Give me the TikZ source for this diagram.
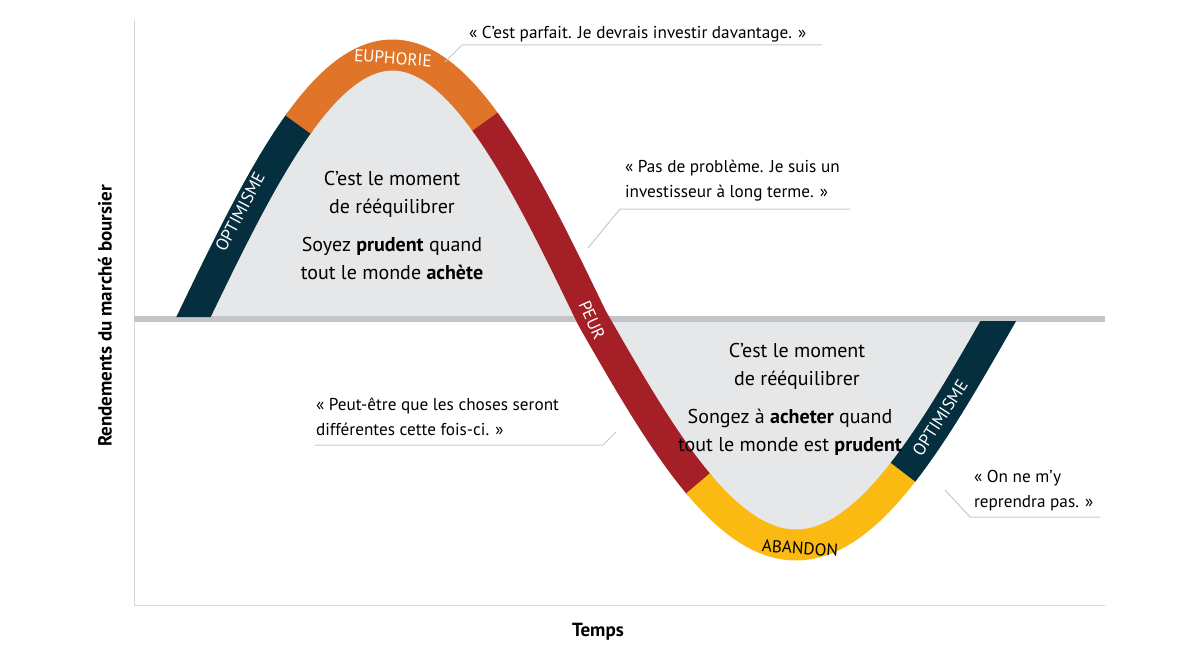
\documentclass[tikz,border=0pt]{standalone}
\usepackage{fontspec}
\setmainfont{PT Sans}
\definecolor{navy}{HTML}{052F3F}
\definecolor{euph}{HTML}{E07428}
\definecolor{fear}{HTML}{A51F26}
\definecolor{aband}{HTML}{FBBA12}
\definecolor{lobegray}{HTML}{E6E7E9}
\definecolor{axisgray}{HTML}{C4C5C7}
\definecolor{leadgray}{HTML}{C8C8C8}
\begin{document}
\begin{tikzpicture}[x=0.5pt, y=-0.5pt,
  band/.style={line width=15.5pt},
  lobe/.style={fill=lobegray},
  mid/.style={align=center, font=\fontsize{10}{14}\selectfont},
  quote/.style={align=left, anchor=north west, font=\fontsize{8.6}{12.6}\selectfont},
  bandlbl/.style={text=white, font=\fontsize{8.6}{9}\selectfont},
  lead/.style={draw=leadgray, line width=0.5pt}]
\def\f{(\x<592 ? 318-263*sin(0.45113*(\x-193)) : 318+227*sin(0.44118*(\x-592)))}
\useasboundingbox (0,0) rectangle (1200,658);

% axes
\draw[axisgray!70, line width=0.5pt] (134,20) -- (134,605) -- (1105,605);
\node[font=\bfseries\fontsize{9.5}{11}\selectfont] (temps) at (598,632) {Temps};
\node[font=\bfseries\fontsize{9.5}{11}\selectfont, rotate=90] (rend) at (105,316) {Rendements du marché boursier};

% lobes
\fill[lobe] plot[domain=193:592, samples=80] (\x,{\f}) -- cycle;
\fill[lobe] plot[domain=592:1000, samples=80] (\x,{\f}) -- cycle;

% horizontal axis
\draw[axisgray, line width=3pt] (134,319) -- (1105,319);

% band segments
\begin{scope}
\clip (0,0) -- (900,0) -- (900,321) -- (1200,321) -- (1200,658)
      -- (300,658) -- (300,317) -- (0,317) -- cycle;
\draw[band, navy] plot[domain=180:300, samples=30] (\x,{\f});
\draw[band, euph] plot[domain=298:487, samples=50] (\x,{\f});
\draw[band, fear] plot[domain=485:700, samples=80] (\x,{\f});
\draw[band, aband] plot[domain=698:905, samples=50] (\x,{\f});
\draw[band, navy] plot[domain=903:1015, samples=30] (\x,{\f});
\end{scope}

% band labels
\node[bandlbl, rotate=62] (opt1) at (240,212) {OPTIMISME};
\node[bandlbl, rotate=-4] (euphorie) at (393,58) {EUPHORIE};
\node[bandlbl, rotate=-66] (peur) at (592,320) {PEUR};
\node[bandlbl, text=black, rotate=-4] (abandon) at (800,548) {ABANDON};
\node[bandlbl, rotate=57] (opt2) at (940,418) {OPTIMISME};

% centre texts
\node[mid] (t1) at (392,194) {C’est le moment\\de rééquilibrer};
\node[mid] (t2) at (392,259) {Soyez \textbf{prudent} quand\\tout le monde \textbf{achète}};
\node[mid] (b1) at (797,366) {C’est le moment\\de rééquilibrer};
\node[mid] (b2) at (790,432) {Songez à \textbf{acheter} quand\\tout le monde est \textbf{prudent}};

% quotes
\node[quote] (q1) at (462,19) {« C’est parfait. Je devrais investir davantage. »};
\draw[lead] (822,45) -- (462,45) -- (445,62);
\node[quote] (q2) at (618,153) {« Pas de problème. Je suis un\\investisseur à long terme. »};
\draw[lead] (850,209) -- (620,209) -- (588,248);
\node[quote] (q3) at (309,391) {« Peut-être que les choses seront\\différentes cette fois-ci. »};
\draw[lead] (315,445) -- (603,445) -- (616,432);
\node[quote] (q4) at (967,463) {« On ne m’y\\reprendra pas. »};
\draw[lead] (1100,517) -- (970,517) -- (945,490);
\end{tikzpicture}
\end{document}
